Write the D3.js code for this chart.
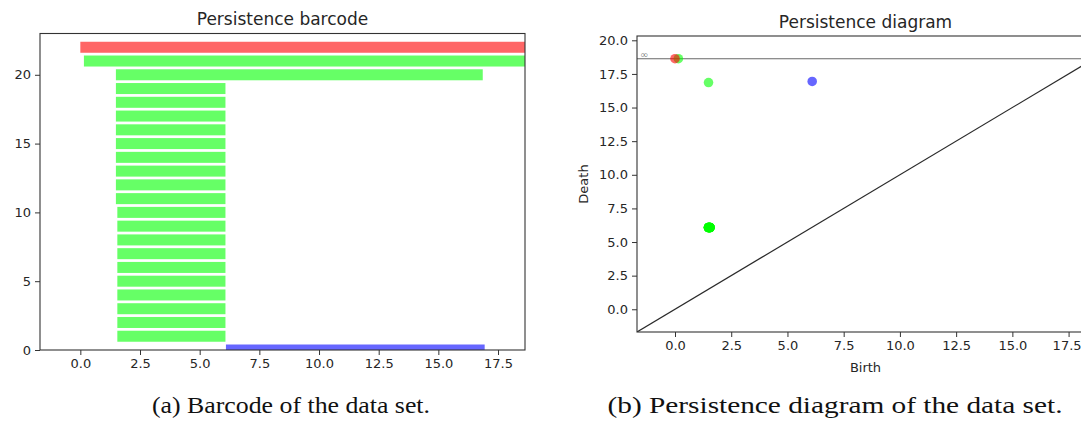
<!DOCTYPE html>
<html>
<head>
<meta charset="utf-8">
<script src="https://cdn.jsdelivr.net/npm/d3@7"></script>
<style>
  body { margin: 0; background: #fff; }
  svg { display: block; font-family: "DejaVu Sans", sans-serif; }
</style>
</head>
<body>
<div id="fig"></div>
<script>
// persistence intervals, bottom bar first (index = row in the barcode)
const barDims   = [2, 1, 1, 1, 1, 1, 1, 1, 1, 1, 1, 1, 1, 1, 1, 1, 1, 1, 1, 1, 1, 1, 0];
const barBirths = [6.10, 1.55, 1.55, 1.55, 1.55, 1.55, 1.55, 1.55, 1.55, 1.55, 1.55,
                   1.49, 1.49, 1.49, 1.49, 1.49, 1.49, 1.49, 1.49, 1.49, 1.49, 0.15, 0.00];
const barDeaths = [16.94, 6.08, 6.08, 6.08, 6.08, 6.08, 6.08, 6.08, 6.08, 6.08, 6.08,
                   6.08, 6.08, 6.08, 6.08, 6.08, 6.08, 6.08, 6.08, 6.08, 16.86, Infinity, Infinity];

const dimColors = ['#ff0000', '#00ff00', '#0000ff'];

const axisStart = -1.69;   // min birth - delta
const infinity = 18.63;    // max death + delta
const diagramTop = 20.32;  // infinity + delta

const barXTicks = [0, 2.5, 5, 7.5, 10, 12.5, 15, 17.5];
const barYTicks = [0, 5, 10, 15, 20];
const diagXTicks = [0, 2.5, 5, 7.5, 10, 12.5, 15, 17.5];
const diagYTicks = [0, 2.5, 5, 7.5, 10, 12.5, 15, 17.5, 20];

const intervals = barDims.map((d, i) => ({dim: d, birth: barBirths[i], death: barDeaths[i], row: i}));

const width = 1081;
const height = 427;
const svg = d3.select('#fig')
  .append('svg')
    .attr('width', width)
    .attr('height', height);

const textColor = '#262626';
const spineColor = '#333';

function styleAxis(g) {
  g.select('.domain').remove();
  g.selectAll('.tick line').attr('stroke', spineColor);
  g.selectAll('.tick text')
    .attr('fill', textColor)
    .style('font-size', '13px')
    .style('font-family', '"DejaVu Sans", sans-serif');
}

// ---------- (a) barcode ----------
const bc = {left: 40, right: 525, top: 33.5, bottom: 350};

const xBar = d3.scaleLinear()
  .domain([axisStart, infinity])
  .range([bc.left, bc.right]);
const yBar = d3.scaleLinear()
  .domain([0, barDims.length])
  .range([bc.bottom, bc.top]);

svg.append('clipPath')
    .attr('id', 'clipBar')
  .append('rect')
    .attr('x', bc.left)
    .attr('y', bc.top)
    .attr('width', bc.right - bc.left)
    .attr('height', bc.bottom - bc.top);

svg.append('g')
    .attr('clip-path', 'url(#clipBar)')
  .selectAll('rect')
  .data(intervals)
  .join('rect')
    .attr('x', d => xBar(d.birth))
    .attr('y', d => yBar(d.row + 0.4))
    .attr('width', d => xBar(Math.min(d.death, infinity)) - xBar(d.birth))
    .attr('height', d => yBar(d.row - 0.4) - yBar(d.row + 0.4))
    .attr('fill', d => dimColors[d.dim])
    .attr('fill-opacity', 0.6);

svg.append('g')
    .attr('transform', `translate(0,${bc.bottom})`)
    .call(d3.axisBottom(xBar).tickValues(barXTicks).tickFormat(d3.format('.1f')).tickSize(5).tickPadding(4))
    .call(styleAxis);

svg.append('g')
    .attr('transform', `translate(${bc.left},0)`)
    .call(d3.axisLeft(yBar).tickValues(barYTicks).tickFormat(d3.format('d')).tickSize(5).tickPadding(4))
    .call(styleAxis);

svg.append('rect')
    .attr('x', bc.left)
    .attr('y', bc.top)
    .attr('width', bc.right - bc.left)
    .attr('height', bc.bottom - bc.top)
    .attr('fill', 'none')
    .attr('stroke', spineColor)
    .attr('stroke-width', 1.1);

svg.append('text')
    .attr('x', (bc.left + bc.right) / 2)
    .attr('y', 25)
    .attr('text-anchor', 'middle')
    .attr('fill', textColor)
    .style('font-size', '17px')
    .text('Persistence barcode');

// ---------- (b) diagram ----------
const pd = {left: 637, right: 1094, top: 36, bottom: 332};

const xDiag = d3.scaleLinear()
  .domain([axisStart, infinity])
  .range([pd.left, pd.right]);
const yDiag = d3.scaleLinear()
  .domain([axisStart, diagramTop])
  .range([pd.bottom, pd.top]);

svg.append('clipPath')
    .attr('id', 'clipDiag')
  .append('rect')
    .attr('x', pd.left)
    .attr('y', pd.top)
    .attr('width', pd.right - pd.left)
    .attr('height', pd.bottom - pd.top);

const plot = svg.append('g').attr('clip-path', 'url(#clipDiag)');

// birth = death line
plot.append('line')
    .attr('x1', xDiag(axisStart))
    .attr('y1', yDiag(axisStart))
    .attr('x2', xDiag(infinity))
    .attr('y2', yDiag(infinity))
    .attr('stroke', '#2a2a2a')
    .attr('stroke-width', 1.2);

// infinity line
plot.append('line')
    .attr('x1', xDiag(axisStart))
    .attr('y1', yDiag(infinity))
    .attr('x2', xDiag(infinity))
    .attr('y2', yDiag(infinity))
    .attr('stroke', '#000')
    .attr('stroke-opacity', 0.6)
    .attr('stroke-width', 1.2);

plot.append('text')
    .attr('x', xDiag(axisStart) + 3)
    .attr('y', yDiag(infinity) - 1)
    .attr('fill', '#000')
    .attr('fill-opacity', 0.5)
    .style('font-size', '10px')
    .text('∞');

plot.selectAll('circle')
  .data(intervals)
  .join('circle')
    .attr('cx', d => xDiag(d.birth))
    .attr('cy', d => yDiag(Math.min(d.death, infinity)))
    .attr('r', 4.8)
    .attr('fill', d => dimColors[d.dim])
    .attr('fill-opacity', 0.6);

const diagXAxis = svg.append('g')
    .attr('transform', `translate(0,${pd.bottom})`)
    .call(d3.axisBottom(xDiag).tickValues(diagXTicks).tickFormat(d3.format('.1f')).tickSize(5).tickPadding(4))
    .call(styleAxis);
// keep the last label inside the page edge
diagXAxis.selectAll('.tick text')
    .filter(d => d === 17.5)
    .attr('dx', -2);

svg.append('g')
    .attr('transform', `translate(${pd.left},0)`)
    .call(d3.axisLeft(yDiag).tickValues(diagYTicks).tickFormat(d3.format('.1f')).tickSize(5).tickPadding(4))
    .call(styleAxis);

svg.append('rect')
    .attr('x', pd.left)
    .attr('y', pd.top)
    .attr('width', pd.right - pd.left)
    .attr('height', pd.bottom - pd.top)
    .attr('fill', 'none')
    .attr('stroke', spineColor)
    .attr('stroke-width', 1.1);

svg.append('text')
    .attr('x', (pd.left + pd.right) / 2)
    .attr('y', 28)
    .attr('text-anchor', 'middle')
    .attr('fill', textColor)
    .style('font-size', '17px')
    .text('Persistence diagram');

svg.append('text')
    .attr('x', (pd.left + pd.right) / 2)
    .attr('y', 372)
    .attr('text-anchor', 'middle')
    .attr('fill', textColor)
    .style('font-size', '13px')
    .text('Birth');

svg.append('text')
    .attr('transform', `translate(588,${(pd.top + pd.bottom) / 2}) rotate(-90)`)
    .attr('text-anchor', 'middle')
    .attr('fill', textColor)
    .style('font-size', '13px')
    .text('Death');

// ---------- captions ----------
const captions = [
  {text: '(a) Barcode of the data set.', x: 291, len: 278},
  {text: '(b) Persistence diagram of the data set.', x: 835, len: 455}
];
svg.selectAll('.caption')
  .data(captions)
  .join('text')
    .attr('class', 'caption')
    .attr('x', d => d.x)
    .attr('y', 413)
    .attr('text-anchor', 'middle')
    .attr('textLength', d => d.len)
    .attr('lengthAdjust', 'spacingAndGlyphs')
    .attr('fill', '#111')
    .style('font-family', '"Liberation Serif", "DejaVu Serif", serif')
    .style('font-size', '24px')
    .text(d => d.text);
</script>
</body>
</html>
